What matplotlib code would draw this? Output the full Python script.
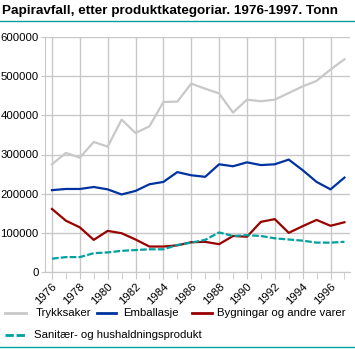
import matplotlib
matplotlib.use("Agg")
import matplotlib.pyplot as plt
from matplotlib.lines import Line2D

years = list(range(1976, 1998))

trykksaker = [275000, 304000, 292000, 332000, 320000, 389000, 355000, 372000, 434000, 435000, 481000,
              468000, 456000, 407000, 440000, 436000, 440000, 457000, 474000, 488000, 517000, 543000]
emballasje = [209000, 212000, 212000, 217000, 211000, 198000, 207000, 224000, 230000, 255000, 247000,
              243000, 275000, 270000, 280000, 273000, 275000, 287000, 260000, 230000, 211000, 241000]
bygningar = [161000, 131000, 114000, 82000, 105000, 99000, 83000, 65000, 65000, 68000, 76000,
             77000, 71000, 92000, 90000, 128000, 135000, 100000, 117000, 133000, 118000, 127000]
sanitaer = [34000, 38000, 38000, 48000, 50000, 54000, 56000, 58000, 58000, 69000, 75000,
            82000, 101000, 92000, 94000, 92000, 86000, 83000, 80000, 75000, 75000, 77000]

labels = ["Trykksaker", "Emballasje", "Bygningar og andre varer", "Sanitær- og hushaldningsprodukt"]

GREY = "#c8c8c8"
BLUE = "#0033a0"
RED = "#990000"
TEAL = "#00a0a0"
GRID = "#c8c8c8"
DASH = (0, (3, 1))

plt.rcParams["font.family"] = ["Liberation Sans", "DejaVu Sans"]

W, H = 355, 349
fig = plt.figure(figsize=(W / 100, H / 100), dpi=100)
ax = fig.add_axes([45 / W, 1 - 272 / H, 305 / W, 235 / H])

lw = 1.6
ax.plot(years, trykksaker, color=GREY, lw=lw, zorder=3)
ax.plot(years, emballasje, color=BLUE, lw=lw, zorder=3)
ax.plot(years, bygningar, color=RED, lw=lw, zorder=3)
ax.plot(years, sanitaer, color=TEAL, lw=lw, ls=DASH, zorder=3)

ax.set_xlim(1975.5, 1997.4)
ax.set_ylim(0, 600000)

ax.set_yticks(range(0, 600001, 100000))
ax.set_yticklabels([str(v) for v in range(0, 600001, 100000)], fontsize=8.2)
ax.set_xticks(range(1976, 1998, 2))
ax.set_xticklabels([str(y) for y in range(1976, 1998, 2)], fontsize=8.2,
                   rotation=45, ha="right", va="top", rotation_mode="anchor")
ax.set_xticks(range(1977, 1998, 2), minor=True)

ax.grid(True, which="major", color=GRID, lw=1)
ax.set_axisbelow(True)
ax.tick_params(axis="y", length=3, color=GRID, pad=1.5)
ax.tick_params(axis="x", which="both", length=5, color=GRID, pad=2)

for side in ["top", "right"]:
    ax.spines[side].set_visible(False)
for side in ["left", "bottom"]:
    ax.spines[side].set_color(GRID)

# title and teal rules
fig.text(2 / W, 1 - 14 / H, "Papiravfall, etter produktkategoriar. 1976-1997. Tonn",
         fontsize=9.7, fontweight="bold", va="baseline", ha="left")
fig.add_artist(Line2D([0, 1], [1 - 20.5 / H, 1 - 20.5 / H], color=TEAL, lw=1))
fig.add_artist(Line2D([0, 1], [1 - 346.5 / H, 1 - 346.5 / H], color=TEAL, lw=1))


# legend entries laid out by hand: (line x0, line x1, text x, row y) in pixels
def legend_entry(x0, x1, xt, y, color, label, ls="-"):
    yf = 1 - y / H
    fig.add_artist(Line2D([x0 / W, x1 / W], [yf, yf], color=color, lw=2, ls=ls))
    fig.text(xt / W, yf, label, fontsize=8.2, va="center", ha="left")


legend_entry(5, 26, 36, 313, GREY, labels[0])
legend_entry(97, 116, 123, 313, BLUE, labels[1])
legend_entry(192, 212, 217, 313, RED, labels[2])
legend_entry(5, 26, 34, 335, TEAL, labels[3], ls=DASH)

fig.savefig("out.png", dpi=100)
